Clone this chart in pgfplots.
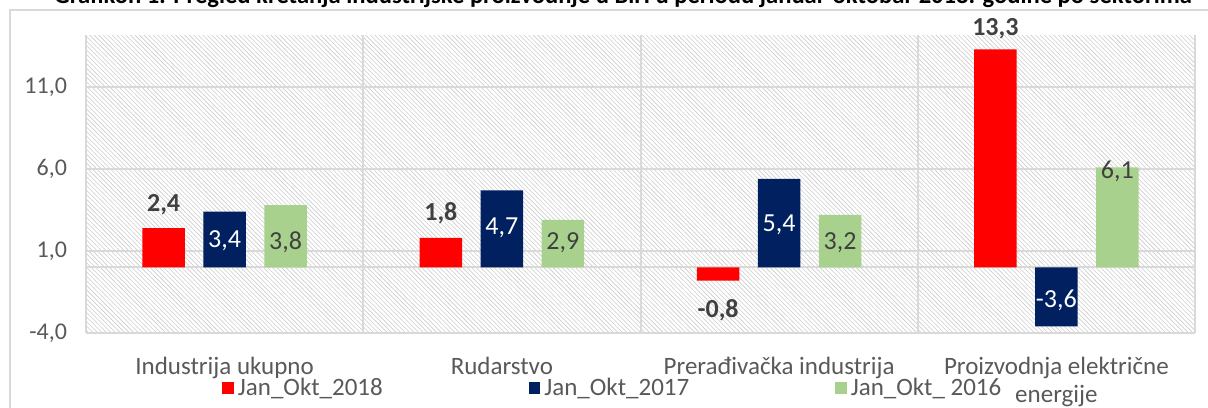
\documentclass[border=0pt]{standalone}
\usepackage{pgfplots}
\pgfplotsset{compat=1.18}
\usepackage{pgfplotstable}
\usetikzlibrary{patterns.meta}
\usepackage{fontspec}
\setmainfont{Carlito}
\definecolor{c18}{RGB}{255,0,0}
\definecolor{c17}{RGB}{0,32,96}
\definecolor{c16}{RGB}{169,209,142}
\definecolor{txt}{RGB}{89,89,89}
\definecolor{lab}{RGB}{64,64,64}
\definecolor{grd}{RGB}{217,217,217}

\pgfplotstableread{
x y ly lab
-0.22 2.4 3.8 2,4
0.78 1.8 3.3 1,8
1.78 -0.8 -2.6 -0,8
2.78 13.3 14.55 13,3
}\redt
\pgfplotstableread{
x y ly lab
0 3.4 1.65 3,4
1 4.7 2.4 4,7
2 5.4 2.6 5,4
3 -3.6 -2.0 -3,6
}\navyt
\pgfplotstableread{
x y ly lab
0.22 3.8 1.55 3,8
1.22 2.9 1.5 2,9
2.22 3.2 1.5 3,2
3.22 6.1 5.84 6,1
}\greent

\begin{document}
\begin{tikzpicture}[font=\fontsize{12.5}{14}\selectfont]
\begin{axis}[
  at={(43pt,37pt)}, anchor=south west,
  width=554.5pt, height=149pt, scale only axis,
  xmin=-0.5, xmax=3.5, ymin=-4, ymax=14.17,
  clip=false,
  axis line style={draw=none},
  tick style={draw=none},
  ytick={-4,1,6,11},
  ymajorgrids,
  xtick={0,1,2,3},
  xticklabels={Industrija ukupno, Rudarstvo, Prerađivačka industrija, {Proizvodnja električne\\energije}},
  minor xtick={-0.5,0.5,1.5,2.5,3.5},
  xminorgrids,
  major grid style={grd, line width=1pt},
  minor grid style={grd, line width=1pt},
  extra y ticks={0},
  extra y tick labels={},
  extra y tick style={ymajorgrids, major grid style={grd, line width=1pt}},
  axis background/.style={pattern={Lines[angle=-45,distance=1.6pt,line width=0.3pt]}, pattern color=gray!40},
  /pgf/number format/.cd, fixed, fixed zerofill, precision=1, use comma, assume math mode=true,
  /pgfplots/.cd,
  yticklabel style={text=txt, xshift=-6pt, font=\fontsize{12}{14}\selectfont},
  xticklabel style={text=txt, align=center, anchor=north, yshift=-8.7pt, font=\fontsize{12.5}{13.6}\selectfont},
  legend style={at={(axis description cs:0.1226,-0.1846)}, anchor=west, draw=none, fill=none,
    legend columns=3, text=txt, inner sep=0pt, font=\fontsize{12.5}{14}\selectfont,
    /tikz/every even column/.append style={column sep=71pt}},
  legend cell align=left,
]
\addplot[ybar, bar width=0.153, bar shift=0pt, fill=c18, draw=none,
  legend image code/.code={\fill[c18] (0pt,-2.9pt) rectangle (5.8pt,2.9pt);}]
  table[x=x,y=y]{\redt};
\addlegendentry{Jan\_Okt\_2018}
\addplot[ybar, bar width=0.153, bar shift=0pt, fill=c17, draw=none,
  legend image code/.code={\fill[c17] (0pt,-2.9pt) rectangle (5.8pt,2.9pt);}]
  table[x=x,y=y]{\navyt};
\addlegendentry{Jan\_Okt\_2017}
\addplot[ybar, bar width=0.153, bar shift=0pt, fill=c16, draw=none,
  legend image code/.code={\fill[c16] (0pt,-2.9pt) rectangle (5.8pt,2.9pt);}]
  table[x=x,y=y]{\greent};
\addlegendentry{Jan\_Okt\_ 2016}

\addplot[draw=none, forget plot, nodes near coords, point meta=explicit symbolic,
  every node near coord/.append style={anchor=center, inner sep=0pt, text=lab, font=\fontsize{13}{15}\selectfont\bfseries}]
  table[x=x,y=ly,meta=lab]{\redt};
\addplot[draw=none, forget plot, nodes near coords, point meta=explicit symbolic,
  every node near coord/.append style={anchor=center, inner sep=0pt, text=white, font=\fontsize{13}{15}\selectfont}]
  table[x=x,y=ly,meta=lab]{\navyt};
\addplot[draw=none, forget plot, nodes near coords, point meta=explicit symbolic,
  every node near coord/.append style={anchor=center, inner sep=0pt, text=lab, font=\fontsize{13}{15}\selectfont}]
  table[x=x,y=ly,meta=lab]{\greent};
\end{axis}
\draw[grd, line width=0.75pt] (5pt,-20pt) -- (5pt,198.5pt) -- (700pt,198.5pt);
\node[anchor=base, font=\fontsize{12.3}{14}\selectfont\bfseries, text=black] at (311.5pt,201.8pt)
  {Grafikon 1: Pregled kretanja industrijske proizvodnje u BiH u periodu januar-oktobar 2018. godine po sektorima};
\pgfresetboundingbox
\useasboundingbox (0,0) rectangle (604pt,203.5pt);
\end{tikzpicture}
\end{document}
